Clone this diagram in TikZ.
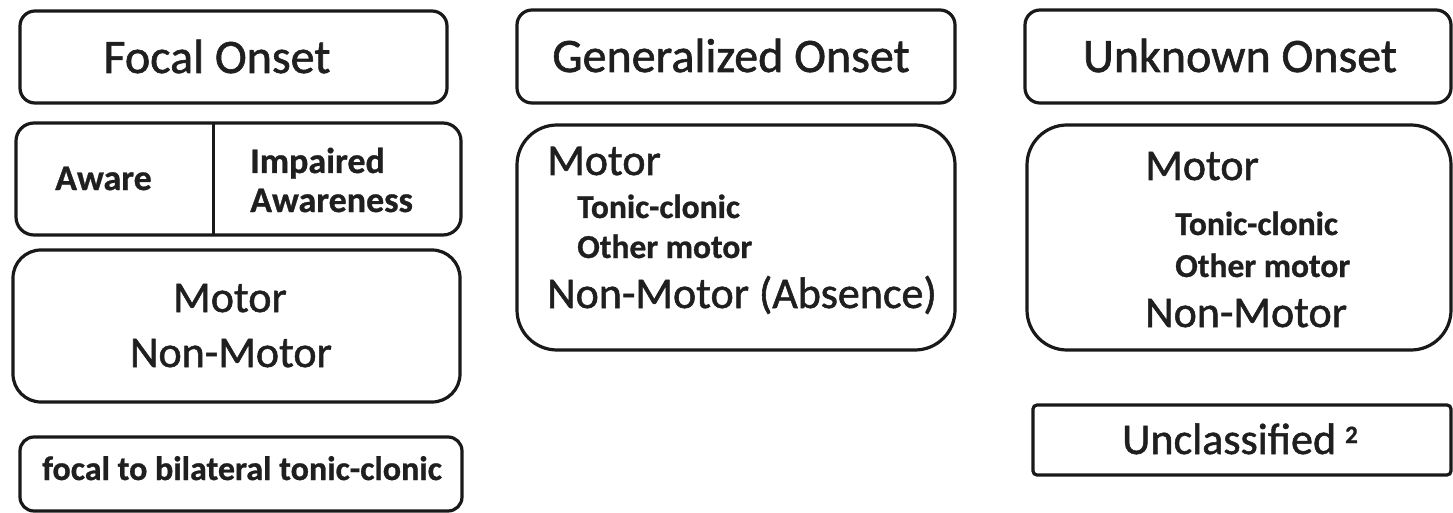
\documentclass[tikz,border=0pt]{standalone}
\usepackage{fontspec}
\setmainfont{Carlito}
\newfontfamily\heavyfont{Carlito}[FakeBold=1.2]
\newfontfamily\boldheavy{Carlito Bold}[FakeBold=0.8]
\begin{document}
\begin{tikzpicture}[x=1pt,y=-1pt,
  box/.style={draw=black!90, line width=3.2pt, fill=white, inner sep=0pt},
  txt/.style={inner sep=0pt, text=black!88},
  ttl/.style={txt, font=\fontsize{48}{52}\heavyfont},
  big/.style={txt, font=\fontsize{44}{48}\heavyfont},
  mid/.style={txt, font=\fontsize{36}{40}\boldheavy},
  sml/.style={txt, font=\fontsize{33.5}{36}\boldheavy},
  tiny/.style={txt, font=\fontsize{34}{38}\boldheavy}]
\useasboundingbox (0,0) rectangle (1453,513);
% boxes
\node[box, rounded corners=15pt, minimum width=427pt, minimum height=92pt] (focal) at (233.5,57) {};
\node[box, rounded corners=18pt, minimum width=445pt, minimum height=112pt] (aware) at (238.5,179) {};
\coordinate (dtop) at (213,123);
\coordinate (dbot) at (213,235);
\draw[line width=3pt, black!90] (dtop) -- (dbot);
\node[box, rounded corners=28pt, minimum width=447pt, minimum height=152pt] (fmotor) at (236.5,326) {};
\node[box, rounded corners=14pt, minimum width=442pt, minimum height=74pt] (bilat) at (241,474) {};
\node[box, rounded corners=15pt, minimum width=438pt, minimum height=93pt] (gen) at (736,56.5) {};
\node[box, rounded corners=40pt, minimum width=438pt, minimum height=225pt] (gmotor) at (736,237.5) {};
\node[box, rounded corners=15pt, minimum width=426pt, minimum height=93pt] (unk) at (1238,56.5) {};
\node[box, rounded corners=40pt, minimum width=424pt, minimum height=225pt] (umotor) at (1239,237.5) {};
\node[box, rounded corners=4pt, minimum width=418pt, minimum height=70pt] (uncl) at (1242,440) {};
% texts
\node[ttl, anchor=base] (tfocal) at (217,73) {Focal Onset};
\node[mid, anchor=base west] (taware) at (55,190) {Aware};
\node[mid, anchor=base west] (timp) at (250,173) {Impaired};
\node[mid, anchor=base west] (tawn) at (250,212) {Awareness};
\node[big, anchor=base] (tfm) at (230,312) {Motor};
\node[big, anchor=base] (tfnm) at (231,367) {Non-Motor};
\node[tiny, anchor=base] (tbil) at (242,480) {focal to bilateral tonic-clonic};
\node[ttl, anchor=base] (tgen) at (731,72) {Generalized Onset};
\node[big, anchor=base west] (tgm) at (547,175) {Motor};
\node[sml, anchor=base west] (tgtc) at (577,218) {Tonic-clonic};
\node[sml, anchor=base west] (tgom) at (577,258) {Other motor};
\node[big, anchor=base west] (tgnm) at (547,308) {Non-Motor (Absence)};
\node[ttl, anchor=base] (tunk) at (1240,72) {Unknown Onset};
\node[big, anchor=base west] (tum) at (1145,180) {Motor};
\node[sml, anchor=base west] (tutc) at (1175,235) {Tonic-clonic};
\node[sml, anchor=base west] (tuom) at (1175,277) {Other motor};
\node[big, anchor=base west] (tunm) at (1145,327) {Non-Motor};
\node[big, anchor=base west] (tuncl) at (1122,454) {Unclassified\hspace{9pt}\raisebox{11pt}{\fontsize{25}{27}\boldheavy 2}};
\end{tikzpicture}
\end{document}
